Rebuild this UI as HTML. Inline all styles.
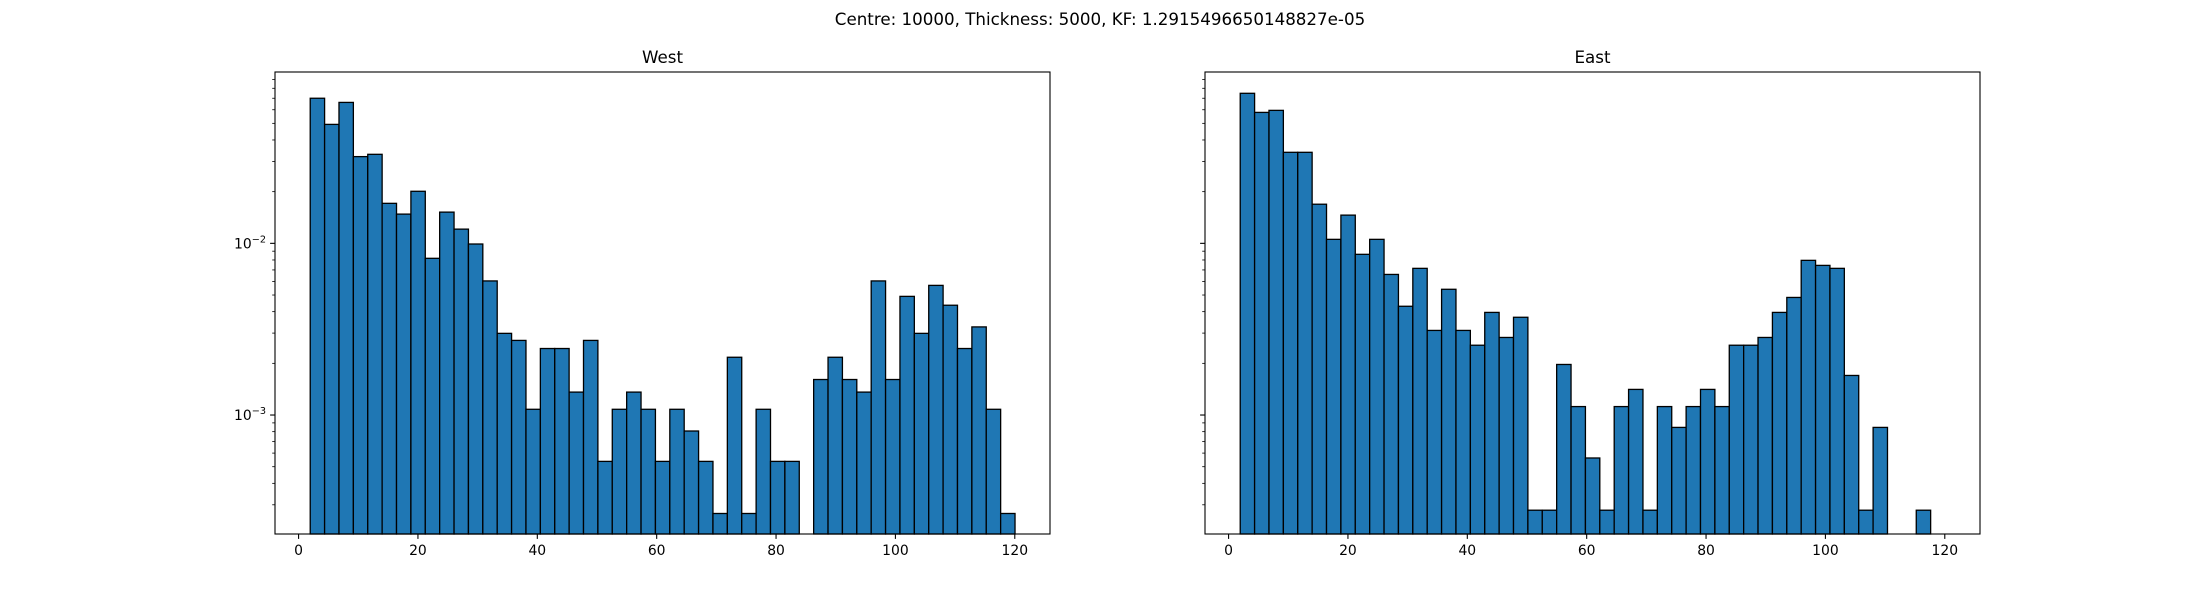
<!DOCTYPE html>
<html><head><meta charset="utf-8">
<style>
html,body{margin:0;padding:0;background:#fff;}
svg{display:block;font-family:"DejaVu Sans","Liberation Sans",sans-serif;}
</style></head>
<body>
<svg id="fig" width="2200" height="600" viewBox="0 0 2200 600" xmlns="http://www.w3.org/2000/svg">
<rect width="2200" height="600" fill="#fff"/>
<text x="1100" y="25" text-anchor="middle" font-size="16.7">Centre: 10000, Thickness: 5000, KF: 1.2915496650148827e-05</text>
</svg>
<script>
const binStart = 1.95;
const binWidth = 2.41;
const xTicks = [0, 20, 40, 60, 80, 100, 120];
const yMajorExp = [-3, -2];
const westValues = [0.0700,0.0493,0.0662,0.0320,0.0330,0.0171,0.0148,0.0201,0.00818,0.0152,0.0121,0.00991,0.00604,0.00299,0.00272,0.00108,0.00244,0.00244,0.00136,0.00272,0.000537,0.00108,0.00136,0.00108,0.000537,0.00108,0.000807,0.000537,0.000267,0.00217,0.000267,0.00108,0.000537,0.000537,0,0.00161,0.00217,0.00161,0.00136,0.00604,0.00161,0.00491,0.00299,0.00569,0.00436,0.00244,0.00326,0.00108,0.000267];
const eastValues = [0.0748,0.0579,0.0595,0.0339,0.0339,0.0169,0.01055,0.0146,0.00863,0.01055,0.00659,0.00430,0.00715,0.00311,0.00540,0.00311,0.00255,0.00396,0.00283,0.00371,0.000279,0.000279,0.00197,0.00112,0.000562,0.000279,0.00112,0.00141,0.000279,0.00112,0.000847,0.00112,0.00141,0.00112,0.00255,0.00255,0.00283,0.00396,0.00484,0.00796,0.00744,0.00715,0.00170,0.000279,0.000847,0,0,0.000279,0];

const NS = "http://www.w3.org/2000/svg";
const svg = document.getElementById('fig');
const xMin = -3.95, xMax = 125.9, logMin = -3.693, logMax = -1.002;
const axTop = 72, axBottom = 534;

function mk(tag, attrs, parent) {
  const e = document.createElementNS(NS, tag);
  for (const k in attrs) e.setAttribute(k, attrs[k]);
  parent.appendChild(e);
  return e;
}

function drawPanel(left, right, title, values, showYLabels, key) {
  const g = mk('g', {}, svg);
  
  
  const xs = v => left + (v - xMin) / (xMax - xMin) * (right - left);
  const ys = v => axBottom - (Math.log10(v) - logMin) / (logMax - logMin) * (axBottom - axTop);

  values.forEach((v, i) => {
    if (v <= 0) return;
    const x0 = xs(binStart + i * binWidth), x1 = xs(binStart + (i + 1) * binWidth);
    const y = ys(v);
    const r = mk('rect', {x: x0, y: y, width: x1 - x0, height: axBottom - y, fill: '#1f77b4', stroke: '#000', 'stroke-width': 1.3}, g);
    
    
  });

  const frame = mk('rect', {x: left, y: axTop, width: right - left, height: axBottom - axTop, fill: 'none', stroke: '#000', 'stroke-width': 1.1}, g);
  
  

  const t = mk('text', {x: (left + right) / 2, y: axTop - 9, 'text-anchor': 'middle', 'font-size': 16.7}, g);
  t.textContent = title;
  
  

  xTicks.forEach(v => {
    const x = xs(v);
    mk('line', {x1: x, x2: x, y1: axBottom, y2: axBottom + 4.9, stroke: '#000', 'stroke-width': 1.1}, g);
    const lab = mk('text', {x: x, y: axBottom + 21, 'text-anchor': 'middle', 'font-size': 13.9}, g);
    lab.textContent = v;
    
    
  });

  for (let e = -4; e <= -1; e++) {
    for (let m = 1; m <= 9; m++) {
      const lv = e + Math.log10(m);
      if (lv < logMin || lv > logMax) continue;
      const y = ys(Math.pow(10, lv));
      const len = m === 1 ? 4.9 : 2.8;
      mk('line', {x1: left - len, x2: left, y1: y, y2: y, stroke: '#000', 'stroke-width': m === 1 ? 1.1 : 0.8}, g);
    }
  }
  if (showYLabels) {
    yMajorExp.forEach(e => {
      const y = ys(Math.pow(10, e));
      const lab = mk('text', {x: left - 9, y: y + 5, 'text-anchor': 'end', 'font-size': 13.9}, g);
      
      
      const a = mk('tspan', {}, lab); a.textContent = '10';
      const b = mk('tspan', {dy: -6, 'font-size': 9.7}, lab); b.textContent = '\u2212' + Math.abs(e);
    });
  }
}

drawPanel(275, 1050, 'West', westValues, true, 'west');
drawPanel(1205, 1980, 'East', eastValues, false, 'east');
</script>
</body></html>
